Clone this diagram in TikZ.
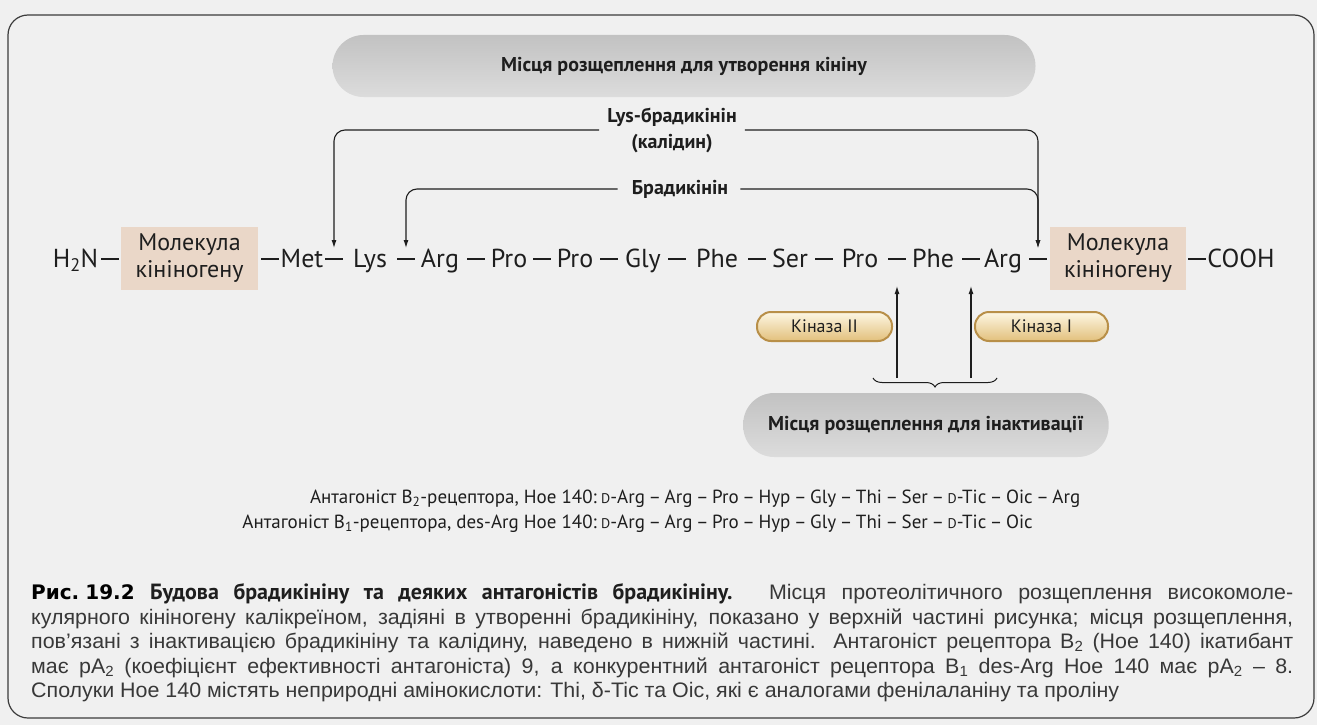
\documentclass[tikz,border=0pt]{standalone}
\usepackage{fontspec}
\setmainfont{PT Sans}
\newfontfamily\capfont[FakeStretch=1.02]{Liberation Sans}
\newfontfamily\heavyfont{DejaVu Sans}
\usetikzlibrary{arrows.meta,decorations.pathreplacing,calc}

\definecolor{paper}{HTML}{F0F0F0}
\definecolor{ink}{HTML}{1E1E1E}
\definecolor{capink}{HTML}{383838}
\definecolor{kbox}{HTML}{EAD7C8}
\definecolor{pilltop}{HTML}{C2C2C2}
\definecolor{pillbot}{HTML}{DCDCDC}
\definecolor{ktop}{HTML}{FDF7E4}
\definecolor{kbot}{HTML}{E2C07C}
\definecolor{kedge}{HTML}{B88F48}
\definecolor{framec}{HTML}{3C3C3C}

% font size in px-like points: size, baseline skip
\newcommand\pxsize[2]{\fontsize{#1}{#2}\selectfont}
\newcommand\smD{{\pxsize{14}{14}D}}
% dash between residues of a short sequence
\newcommand\sq{\hspace{3.6pt}–\hspace{3.6pt}}

\begin{document}
\begin{tikzpicture}[x=1pt,y=-1pt,
  res/.style={font=\pxsize{26}{30}, text=ink, inner sep=0pt, anchor=base},
  bond/.style={draw=ink, line width=1.9pt},
  kinbox/.style={fill=kbox, minimum width=137pt, minimum height=63pt, inner sep=0pt,
    align=center, font=\pxsize{24}{27}, text=ink},
  cut/.style={draw=ink, line width=1.1pt, rounded corners=11pt, -{Latex[length=8pt,width=5pt]}},
  lbl/.style={font=\bfseries\pxsize{20}{26}, text=ink, inner sep=0pt, align=center},
  sitepill/.style={rounded corners=31pt, top color=pilltop, bottom color=pillbot, draw=none,
    font=\bfseries\pxsize{20}{24}, text=ink, minimum height=62pt, inner sep=0pt},
  kinase/.style={rounded corners=14pt, top color=ktop, bottom color=kbot, draw=kedge,
    line width=2pt, minimum height=29pt, font=\pxsize{18}{20}, text=ink, inner sep=0pt},
  antag/.style={font=\pxsize{19}{22}, text=ink, inner sep=0pt},
  capline/.style={font=\capfont\pxsize{21}{24}, text=capink, inner sep=0pt, anchor=base west},
]
\useasboundingbox (0,0) rectangle (1317,725);
\fill[paper] (0,0) rectangle (1317,725);
\draw[framec, line width=1.2pt, rounded corners=20pt] (8,15) rectangle (1314,718);

% cleavage-site banners
\node[sitepill, minimum width=703pt] (topsite) at (684,66) {Місця розщеплення для утворення кініну};

% peptide chain
\node[res] (h2n)  at (75.5,267) {H\textsubscript{2}N};
\node[kinbox] (kin1) at (189.5,258.5) {Молекула\\кініногену};
\node[res] (met)  at (302,267) {Met};
\node[res] (lys)  at (370,267) {Lys};
\node[res] (arg1) at (440,267) {Arg};
\node[res] (pro1) at (509,267) {Pro};
\node[res] (pro2) at (575,267) {Pro};
\node[res] (gly)  at (643,267) {Gly};
\node[res] (phe1) at (717,267) {Phe};
\node[res] (ser)  at (790,267) {Ser};
\node[res] (pro3) at (860,267) {Pro};
\node[res] (phe2) at (933,267) {Phe};
\node[res] (arg2) at (1003,267) {Arg};
\node[kinbox, minimum width=136pt] (kin2) at (1118,258.5) {Молекула\\кініногену};
\node[res] (cooh) at (1241,267) {COOH};

% peptide bonds
\foreach \n/\x in {b0/110, b1/270, b2/334, b3/406, b4/476, b5/542, b6/609,
                   b7/677, b8/757, b9/824, b10/897, b11/971, b12/1038, b13/1197}
  \coordinate (\n) at (\x,259);
\foreach \n in {b0,b1,b2,b3,b4,b5,b6,b7,b8,b9,b10,b11,b12,b13}
  \draw[bond] ([xshift=-9pt]\n) -- ([xshift=9pt]\n);

% kinin-forming cleavage sites
\node[lbl] (kal) at (672,130) {Lys-брадикінін\\(калідин)};
\node[lbl] (brad) at (680,189) {Брадикінін};
\draw[cut] ([xshift=-8pt]kal.west) -| ([yshift=11pt]b2);
\draw[cut] ([xshift=8pt]kal.east) -| ([yshift=11pt]b12);
\draw[cut] ([xshift=-14pt]brad.west) -| ([yshift=11pt]b3);
\draw[cut] ([xshift=12pt]brad.east) -| ([yshift=11pt]b12);

% inactivating cleavage sites
\node[kinase, minimum width=135pt] (kin2ase) at (824.5,326.5) {Кіназа II};
\node[kinase, minimum width=133pt] (kin1ase) at (1041.5,326.5) {Кіназа I};
\coordinate (brL) at (873,378);
\coordinate (brR) at (997,378);
\coordinate (up1) at (897,378);
\coordinate (up2) at (971,378);
\draw[ink, line width=1pt, decorate, decoration={brace, amplitude=9pt, mirror}] (brL) -- (brR);
\draw[cut] (up1) -- ([yshift=-27pt]b10);
\draw[cut] (up2) -- ([yshift=-27pt]b11);
\node[sitepill, anchor=west, inner xsep=25pt, minimum height=64pt] (botsite) at (743,425)
  {Місця розщеплення для інактивації};

% antagonists
\node[antag, anchor=base east] (a2lab) at (597,503) {Антагоніст B\textsubscript{2}-рецептора, Hoe 140:};
\node[antag, anchor=base west] (a2seq) at (601,503)
  {\smD-Arg\sq Arg\sq Pro\sq Hyp\sq Gly\sq Thi\sq Ser\sq\smD-Tic\sq Oic\sq Arg};
\node[antag, anchor=base east] (a1lab) at (597,528) {Антагоніст B\textsubscript{1}-рецептора, des-Arg Hoe 140:};
\node[antag, anchor=base west] (a1seq) at (601,528)
  {\smD-Arg\sq Arg\sq Pro\sq Hyp\sq Gly\sq Thi\sq Ser\sq\smD-Tic\sq Oic};

% caption
\node[capline] (cap1) at (31,599) {\makebox[1262pt][s]{{\heavyfont\bfseries\pxsize{20}{24}\color{black}Рис.\kern6pt19.2} {\rmfamily\bfseries\pxsize{22}{24}\color{ink}Будова брадикініну та деяких антагоністів брадикініну.} Місця протеолітичного розщеплення високомоле-}};
\node[capline] (cap2) at (31,624) {\makebox[1262pt][s]{кулярного кініногену калікреїном, задіяні в утворенні брадикініну, показано у верхній частині рисунка; місця розщеплення,}};
\node[capline] (cap3) at (31,648) {\makebox[1262pt][s]{пов’язані з інактивацією брадикініну та калідину, наведено в нижній частині. Антагоніст рецептора B\textsubscript{2} (Hoe 140) ікатибант}};
\node[capline] (cap4) at (31,673) {\makebox[1262pt][s]{має pA\textsubscript{2} (коефіцієнт ефективності антагоніста) 9, а конкурентний антагоніст рецептора B\textsubscript{1} des-Arg Hoe 140 має pA\textsubscript{2} – 8.}};
\node[capline] (cap5) at (31,697) {Сполуки Hoe 140 містять неприродні амінокислоти: Thi, δ-Tic та Oic, які є аналогами фенілаланіну та проліну};
\end{tikzpicture}
\end{document}
